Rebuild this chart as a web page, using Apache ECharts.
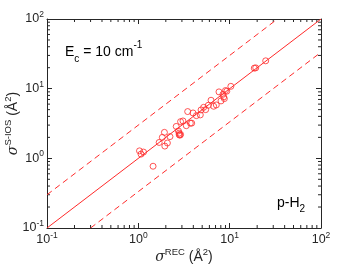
<!DOCTYPE html>
<html><head><meta charset="utf-8">
<script src="https://cdn.jsdelivr.net/npm/echarts@6/dist/echarts.min.js"></script>
<style>html,body{margin:0;padding:0;background:#fff}#c{width:354px;height:266px}</style>
</head><body><div id="c"></div>
<script>
var sigmaREC = [1.03,1.07,1.14,1.45,1.69,1.83,1.93,1.95,2.08,2.22,2.6,2.75,2.8,2.85,2.9,2.8,2.9,3.08,3.35,3.47,3.71,3.84,3.97,4.32,4.77,4.86,5.19,5.46,5.84,6.25,6.68,7.14,7.64,8.04,8.45,8.6,8.75,9.0,9.3,10.3,18.6,19.3,24.8];
var sigmaSIOS = [1.28,1.15,1.23,0.77,1.69,2.0,2.36,1.5,1.66,2.05,2.87,2.47,2.18,2.15,2.2,2.3,3.36,3.44,2.94,4.69,3.2,3.2,4.48,4.1,4.2,4.95,5.4,5.0,5.78,6.82,5.59,5.84,8.99,6.67,8.3,7.6,7.2,9.4,9.2,10.8,19.7,19.9,25.1];
var diagX = [0.1, 100];
var upperX = [0.1, 100/3];
var lowerX = [0.3, 100];
var tickExps = {0.1:'-1', 1:'0', 10:'1', 100:'2'};
var minorTicks = [];
[0.1,1,10].forEach(function(d){ for (var k=2;k<=9;k++) minorTicks.push(+(d*k).toFixed(3)); });

var red = '#ff2a2a';
var axisCol = '#262626';
var FONT = '"Liberation Sans", Arial, sans-serif';
var labRich = {
  b:{fontSize:12.5, fontFamily:FONT, color:axisCol, lineHeight:18, verticalAlign:'middle'},
  s:{fontSize:8.5, fontFamily:FONT, color:axisCol, lineHeight:8, verticalAlign:'top'}
};
function fmt(v){ var k = Math.abs(v-0.1)<1e-9?0.1:Math.round(v); return '{b|10}{s|' + tickExps[k] + '}'; }

var data = sigmaREC.map(function(x,i){ return [x, sigmaSIOS[i]]; });

var chart = echarts.init(document.getElementById('c'), null, {renderer:'canvas'});
function baseAxis(pos, showLabel){
  return {
    type:'log', logBase:10, min:0.1, max:100, position:pos,
    axisLine:{show:true, onZero:false, lineStyle:{color:axisCol, width:1}},
    axisTick:{show:true, inside:true, length:5, lineStyle:{color:axisCol}},
    axisLabel:{show:showLabel, formatter:fmt, rich:labRich, margin:3},
    splitLine:{show:false}
  };
}
var nameRich = {
  i:{fontSize:14, fontFamily:'"DejaVu Serif", serif', fontStyle:'italic', color:axisCol, lineHeight:20, verticalAlign:'middle'},
  b:{fontSize:14, fontFamily:FONT, color:axisCol, lineHeight:20, verticalAlign:'middle'},
  s:{fontSize:9.5, fontFamily:FONT, color:axisCol, lineHeight:9, verticalAlign:'top'}
};
var xa = baseAxis('bottom', true);
xa.name = '{i|σ}{s|REC}{b| (Å}{s|2}{b|)}';
xa.nameLocation='middle'; xa.nameGap=19; xa.nameMoveOverlap=false;
xa.nameTextStyle = {rich:nameRich};
var ya = baseAxis('left', true);
ya.name = '{i|σ}{s|S-IOS}{b| (Å}{s|2}{b|)}';
ya.nameLocation='middle'; ya.nameGap=24; ya.nameRotate=90; ya.nameMoveOverlap=false;
ya.nameTextStyle = {rich:nameRich};
var xa2 = baseAxis('top', false);
var ya2 = baseAxis('right', false);

chart.setOption({
  animation:false,
  grid:{left:47, right:33, top:19, bottom:38, containLabel:false, outerBoundsMode:'none'},
  xAxis:[xa, xa2],
  yAxis:[ya, ya2],
  series:[
    {type:'line', data:diagX.map(function(x){return [x,x];}), symbol:'none', lineStyle:{color:red, width:1}, silent:true},
    {type:'line', data:upperX.map(function(x){return [x,3*x];}), symbol:'none', lineStyle:{color:red, width:1, type:[6,4]}, silent:true},
    {type:'line', data:lowerX.map(function(x){return [x,x/3];}), symbol:'none', lineStyle:{color:red, width:1, type:[6,4]}, silent:true},
    {type:'scatter', data:data, symbol:'circle', symbolSize:6, itemStyle:{color:'transparent', borderColor:red, borderWidth:1}},
    {type:'custom', data:minorTicks.map(function(v){return [v];}), silent:true,
     renderItem:function(params, api){
       var v = api.value(0), L=3;
       var b = api.coord([v,0.1]), t = api.coord([v,100]);
       var l = api.coord([0.1,v]), r = api.coord([100,v]);
       var st = {stroke:axisCol, lineWidth:1};
       return {type:'group', children:[
         {type:'line', shape:{x1:b[0],y1:b[1],x2:b[0],y2:b[1]-L}, style:st},
         {type:'line', shape:{x1:t[0],y1:t[1],x2:t[0],y2:t[1]+L}, style:st},
         {type:'line', shape:{x1:l[0],y1:l[1],x2:l[0]+L,y2:l[1]}, style:st},
         {type:'line', shape:{x1:r[0],y1:r[1],x2:r[0]-L,y2:r[1]}, style:st}
       ]};
     }}
  ],
  graphic:[
    {type:'text', left:65, top:40, style:{text:'{b|E}{sb|c}{b| = 10 cm}{sp|-1}', rich:{
      b:{fontSize:14, fontFamily:FONT, fill:'#000', lineHeight:24, verticalAlign:'middle'},
      sb:{fontSize:10, fontFamily:FONT, fill:'#000', lineHeight:6, verticalAlign:'bottom'},
      sp:{fontSize:10, fontFamily:FONT, fill:'#000', lineHeight:9, verticalAlign:'top'}
    }}},
    {type:'text', left:277, top:196, style:{text:'{b|p-H}{sb|2}', rich:{
      b:{fontSize:14, fontFamily:FONT, fill:'#000', lineHeight:22, verticalAlign:'middle'},
      sb:{fontSize:10, fontFamily:FONT, fill:'#000', lineHeight:6, verticalAlign:'bottom'}
    }}}
  ]
});
</script></body></html>
